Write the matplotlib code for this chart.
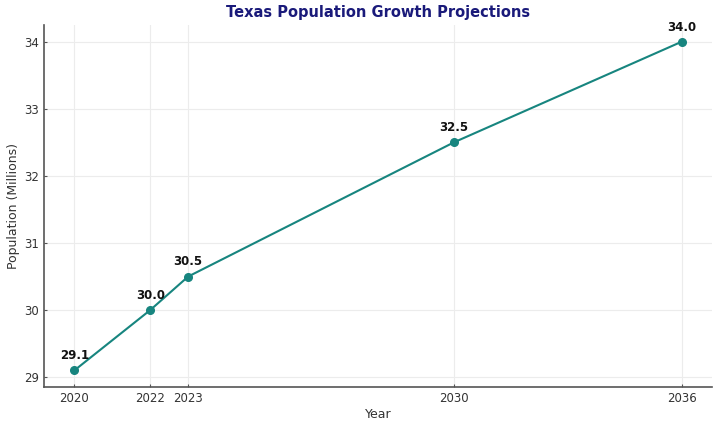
import matplotlib
matplotlib.use("Agg")
import matplotlib.pyplot as plt

# data
years = [2020, 2022, 2023, 2030, 2036]
population = [29.1, 30.0, 30.5, 32.5, 34.0]

fig, ax = plt.subplots(figsize=(7.2, 4.28), dpi=100)
fig.subplots_adjust(left=0.061, right=0.989, bottom=0.096, top=0.941)

ax.plot(years, population, color="#17857f", linewidth=1.5, marker="o", markersize=5.5)

for x, y in zip(years, population):
    ax.annotate(f"{y:.1f}", (x, y), textcoords="offset points", xytext=(0, 8),
                ha="center", fontsize=8.5, fontweight="bold", color="#111111")

ax.set_title("Texas Population Growth Projections", fontsize=10.5, fontweight="bold",
             color="#1a1a7a", pad=6)
ax.set_xlabel("Year", fontsize=9, color="#333333", labelpad=2)
ax.set_ylabel("Population (Millions)", fontsize=9, color="#333333", labelpad=3)
ax.set_xticks(years)
ax.set_yticks([29, 30, 31, 32, 33, 34])

ax.grid(True, color="#ececec", linewidth=0.8)
ax.set_axisbelow(True)
for side in ["top", "right"]:
    ax.spines[side].set_visible(False)
for side in ["left", "bottom"]:
    ax.spines[side].set_color("#555555")
    ax.spines[side].set_linewidth(1.2)
ax.tick_params(direction="in", length=2, width=0.8, colors="#555555", labelsize=8.5,
               labelcolor="#333333")

plt.savefig("out.png", dpi=100)
